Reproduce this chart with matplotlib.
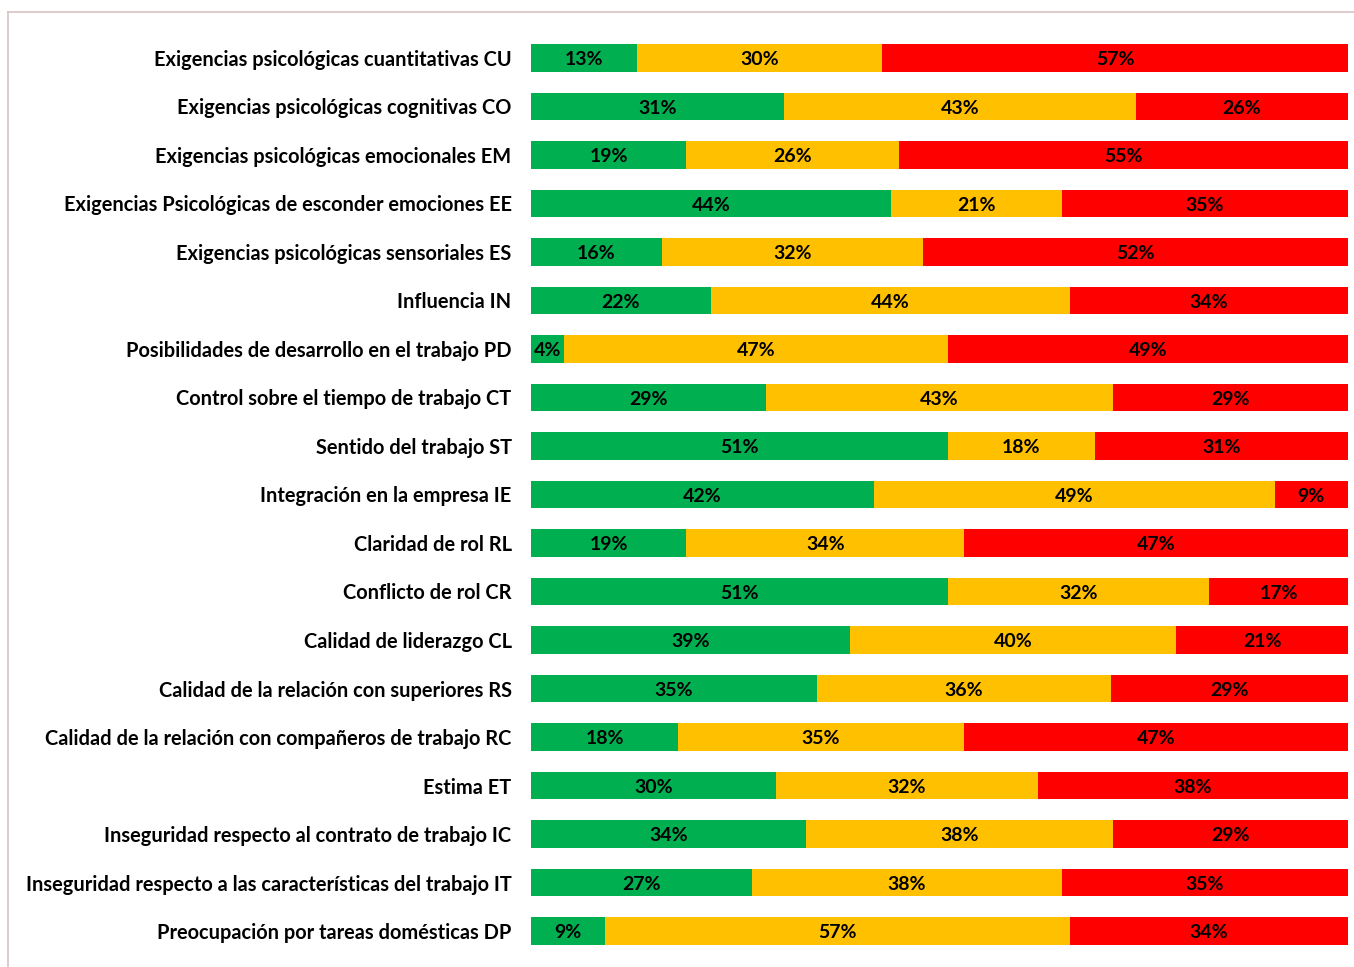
import numpy as np
import matplotlib.pyplot as plt

categorias = [
    'Exigencias psicológicas cuantitativas CU',
    'Exigencias psicológicas cognitivas CO',
    'Exigencias psicológicas emocionales EM',
    'Exigencias Psicológicas de esconder emociones EE',
    'Exigencias psicológicas sensoriales ES',
    'Influencia IN',
    'Posibilidades de desarrollo en el trabajo PD',
    'Control sobre el tiempo de trabajo CT',
    'Sentido del trabajo ST',
    'Integración en la empresa IE',
    'Claridad de rol RL',
    'Conflicto de rol CR',
    'Calidad de liderazgo CL',
    'Calidad de la relación con superiores RS',
    'Calidad de la relación con compañeros de trabajo RC',
    'Estima ET',
    'Inseguridad respecto al contrato de trabajo IC',
    'Inseguridad respecto a las características del trabajo IT',
    'Preocupación por tareas domésticas DP',
]
verde = [13, 31, 19, 44, 16, 22, 4, 29, 51, 42, 19, 51, 39, 35, 18, 30, 34, 27, 9]
amarillo = [30, 43, 26, 21, 32, 44, 47, 43, 18, 49, 34, 32, 40, 36, 35, 32, 38, 38, 57]
rojo = [57, 26, 55, 35, 52, 34, 49, 29, 31, 9, 47, 17, 21, 29, 47, 38, 29, 35, 34]

plt.rcParams['font.family'] = ['Lato', 'DejaVu Sans']

fig = plt.figure(figsize=(13.54, 9.67), dpi=100)
ax = fig.add_axes([0.3922, 0.01215, 0.6034, 0.95295])

v = np.array(verde, float)
a = np.array(amarillo, float)
r = np.array(rojo, float)
tot = v + a + r
# bars fill the full width (100%)
vn, an, rn = v / tot * 100, a / tot * 100, r / tot * 100
y = np.arange(len(categorias))

colores = ['#00B050', '#FFC000', '#FF0000']
izq = np.zeros(len(y))
for ancho, etiq, col in zip([vn, an, rn], [v, a, r], colores):
    ax.barh(y, ancho, left=izq, height=0.57, color=col)
    for yi, l, w, e in zip(y, izq, ancho, etiq):
        ax.text(l + w / 2, yi + 0.04, f'{int(e)}%', ha='center', va='center',
                fontsize=14, fontweight='bold', color='black')
    izq = izq + ancho

ax.set_xlim(0, 100)
ax.set_ylim(len(y) - 0.5, -0.5)
ax.set_yticks(y)
ax.set_yticklabels(categorias, fontsize=14.4, fontweight='bold')
ax.tick_params(axis='y', length=0, pad=14)
ax.set_xticks([])
for s in ax.spines.values():
    s.set_visible(False)

# outer chart frame (only left and top visible)
fig.add_artist(plt.Line2D([8 / 1354, 8 / 1354], [0, 1 - 12 / 967], color='#D9C3C3', lw=1.2))
fig.add_artist(plt.Line2D([8 / 1354, 1], [1 - 12 / 967, 1 - 12 / 967], color='#D9C3C3', lw=1.2))

fig.savefig('out.png', dpi=100)
